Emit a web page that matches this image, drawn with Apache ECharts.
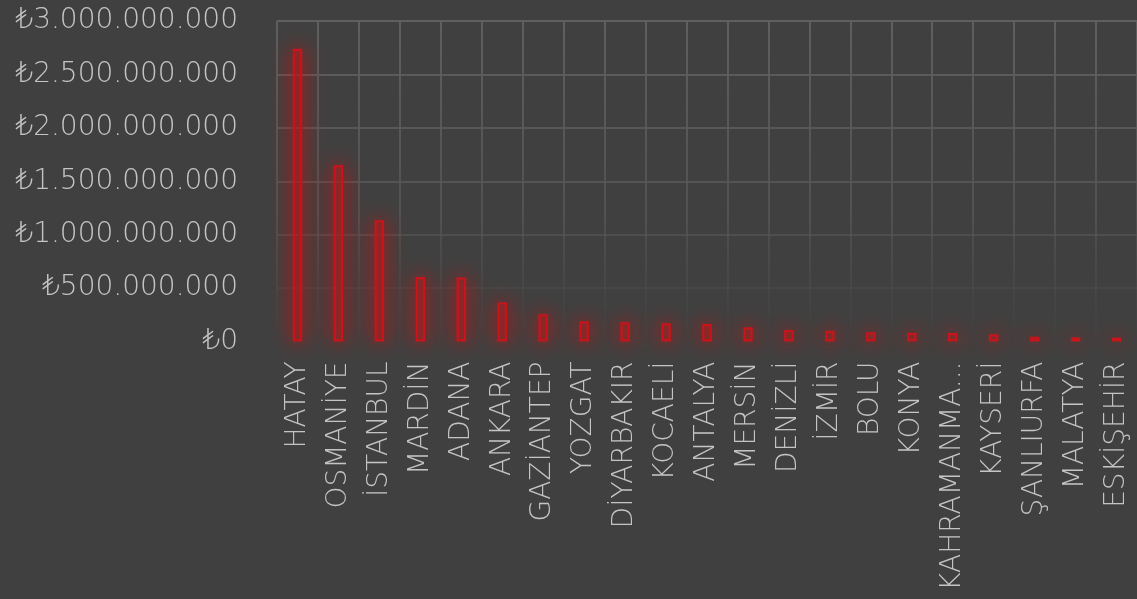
<!DOCTYPE html>
<html>
<head>
<meta charset="utf-8">
<script src="https://cdn.jsdelivr.net/npm/echarts@6/dist/echarts.min.js"></script>
<style>
html,body{margin:0;padding:0;background:#404040;}
#chart{width:1137px;height:599px;}
</style>
</head>
<body>
<div id="chart"></div>
<script>
const categories = ['HATAY','OSMANİYE','İSTANBUL','MARDİN','ADANA','ANKARA','GAZİANTEP','YOZGAT','DİYARBAKIR','KOCAELİ','ANTALYA','MERSİN','DENİZLİ','İZMİR','BOLU','KONYA','KAHRAMANMARAŞ','KAYSERİ','ŞANLIURFA','MALATYA','ESKİŞEHİR'];
const amounts = [2740000000,1650000000,1135000000,603000000,600000000,366000000,254000000,190000000,180000000,170000000,163000000,133000000,107000000,100000000,86000000,82000000,79000000,67000000,45000000,39000000,37000000];
const yTicks = [0,500000000,1000000000,1500000000,2000000000,2500000000,3000000000];

function fmtTL(v){
  return '₺' + String(Math.round(v)).replace(/\B(?=(\d{3})+(?!\d))/g,'.');
}

const gridGrad = {
  type:'linear', x:0, y:21, x2:0, y2:342, global:true,
  colorStops:[{offset:0,color:'rgba(95,95,95,1)'},{offset:0.6,color:'rgba(88,88,88,0.75)'},{offset:1,color:'rgba(80,80,80,0)'}]
};
const FONT = 'DejaVu Sans';

const chart = echarts.init(document.getElementById('chart'));
chart.setOption({
  backgroundColor:'#404040',
  animation:false,
  textStyle:{fontFamily:FONT},
  grid:{left:277,right:-3,top:21,bottom:257.5,containLabel:false},
  xAxis:{
    type:'category',
    data:categories,
    axisLine:{show:false},
    axisTick:{show:false},
    splitLine:{show:true,interval:0,lineStyle:{color:gridGrad,width:2}},
    axisLabel:{
      interval:0,rotate:90,margin:20,color:'#c4c4c4',fontSize:28,fontFamily:FONT,fontWeight:200,
      width:236,overflow:'truncate',ellipsis:'...'
    }
  },
  yAxis:{
    type:'value',
    min:yTicks[0],max:yTicks[yTicks.length-1],interval:yTicks[1]-yTicks[0],
    axisLine:{show:false},
    axisTick:{show:false},
    splitLine:{show:true,lineStyle:{color:gridGrad,width:2}},
    axisLabel:{margin:39,color:'#c4c4c4',fontSize:28,fontFamily:FONT,fontWeight:200,formatter:fmtTL}
  },
  series:[{
    type:'bar',
    data:amounts,
    barWidth:9.5,
    itemStyle:{
      color:'rgba(150,40,40,0.55)',
      borderColor:'#c8141a',
      borderWidth:2.2,
      shadowBlur:20,
      shadowColor:'rgba(235,0,0,1)'
    }
  }]
});
</script>
</body>
</html>
